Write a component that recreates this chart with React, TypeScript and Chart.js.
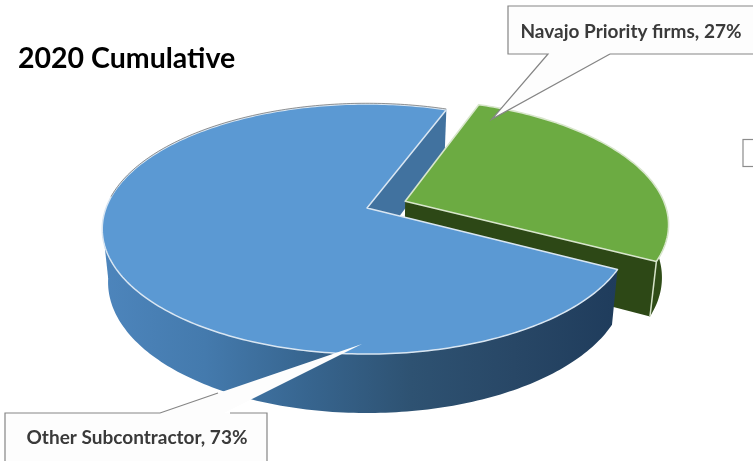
import React, { useEffect, useRef } from "react";
import { Chart, registerables } from "chart.js";

Chart.register(...registerables);

const categories = ["Navajo Priority firms", "Other Subcontractor"];
const shares = [27, 73];
const topColors = ["#6cab42", "#5b99d3"];
const chartTitle = "2020 Cumulative";

// Perspective model of the tilted disc, in canvas pixels.
const CX = 367;
const CY = 208;
const RX = 261;
const RY = 121.5;
const TILT = 0.168;
const EXPLODE = 0.158;
const SHRINK = 0.978;
const DEG = Math.PI / 180;

type Pt = [number, number];

const project = (u: number, v: number): Pt => {
  const w = 1 - TILT * v;
  return [CX + (RX * u) / w, CY + (RY * v) / w];
};

// Same model point on the underside of the disc.
const below = (u: number, v: number): Pt => {
  const [x, y] = project(u, v);
  return [CX + (x - CX) * SHRINK, y + 52 + 7 * v];
};

const pathOf = (ctx: CanvasRenderingContext2D, pts: Pt[]) => {
  ctx.beginPath();
  pts.forEach(([x, y], i) => (i ? ctx.lineTo(x, y) : ctx.moveTo(x, y)));
};

const trace = (ctx: CanvasRenderingContext2D, pts: Pt[]) => {
  pathOf(ctx, pts);
  ctx.closePath();
};

const rim = (a0: number, a1: number, ou: number, ov: number, fn = project): Pt[] => {
  const pts: Pt[] = [];
  const n = Math.max(2, Math.ceil(Math.abs(a1 - a0) / DEG));
  for (let i = 0; i <= n; i++) {
    const a = a0 + ((a1 - a0) * i) / n;
    pts.push(fn(Math.cos(a) + ou, Math.sin(a) + ov));
  }
  return pts;
};

// Band between the top rim and the bottom rim over the given angles.
const wallBand = (a0: number, a1: number, ou: number, ov: number): Pt[] => [
  ...rim(a0, a1, ou, ov),
  ...rim(a0, a1, ou, ov, below).reverse(),
];

// Flat wall running from the hub of a slice out to its rim at angle a.
const radialWall = (a: number, ou: number, ov: number): Pt[] => {
  const u = Math.cos(a) + ou;
  const v = Math.sin(a) + ov;
  return [project(ou, ov), project(u, v), below(u, v), below(ou, ov)];
};

const pie3d = {
  id: "pie3d",
  beforeDatasetsDraw(chart: any) {
    const ctx: CanvasRenderingContext2D = chart.ctx;
    const [green, blue] = chart.getDatasetMeta(0).data;
    const gs = green.startAngle;
    const ge = green.endAngle;
    const bs = blue.startAngle;
    const be = blue.endAngle;
    const mid = (gs + ge) / 2;
    const ou = Math.cos(mid) * EXPLODE;
    const ov = Math.sin(mid) * EXPLODE;

    ctx.save();
    ctx.lineJoin = "round";

    // Inner wall of the large slice, seen through the gap.
    trace(ctx, radialWall(be, 0, 0));
    ctx.fillStyle = "#41729f";
    ctx.fill();

    // Exploded slice: outer wall, cut wall, then its top.
    trace(ctx, wallBand(-12 * DEG, ge, ou, ov));
    ctx.fillStyle = "#2f4c17";
    ctx.fill();
    trace(ctx, radialWall(ge, ou, ov));
    ctx.fillStyle = "#2d4816";
    ctx.fill();

    const corner = Math.cos(ge) + ou;
    const cornerV = Math.sin(ge) + ov;
    ctx.beginPath();
    ctx.moveTo(...project(corner, cornerV));
    ctx.lineTo(...below(corner, cornerV));
    ctx.strokeStyle = "#d5e2c8";
    ctx.lineWidth = 1.5;
    ctx.stroke();

    const greenTop: Pt[] = [project(ou, ov), ...rim(gs, ge, ou, ov)];
    trace(ctx, greenTop);
    ctx.fillStyle = green.options.backgroundColor;
    ctx.fill();
    ctx.strokeStyle = "#d8e6cc";
    ctx.lineWidth = 1.6;
    ctx.stroke();

    // Large slice: curved outer wall with a left-to-right shade, then its top.
    const shade = ctx.createLinearGradient(102, 0, 617, 0);
    shade.addColorStop(0, "#4d85bc");
    shade.addColorStop(0.2, "#447aad");
    shade.addColorStop(0.4, "#37658f");
    shade.addColorStop(0.6, "#2e5272");
    shade.addColorStop(0.8, "#284766");
    shade.addColorStop(1, "#1f3c5c");
    ctx.fillStyle = shade;
    trace(ctx, wallBand(bs, 190 * DEG, 0, 0));
    ctx.fill();
    // Tangent strip that closes the left silhouette between the two rims.
    const side = 172 * DEG;
    const sideU = Math.cos(side);
    const sideV = Math.sin(side);
    trace(ctx, [project(sideU, sideV), below(sideU, sideV), project(0, 0)]);
    ctx.fill();

    const blueTop: Pt[] = [project(0, 0), ...rim(bs, be, 0, 0)];
    trace(ctx, blueTop);
    ctx.fillStyle = blue.options.backgroundColor;
    ctx.fill();
    ctx.strokeStyle = "#d9e6f2";
    ctx.lineWidth = 1.5;
    ctx.stroke();

    // Thin dark line along the far rim.
    pathOf(ctx, rim(185 * DEG, be, 0, -0.008));
    ctx.strokeStyle = "rgba(90,90,90,0.65)";
    ctx.lineWidth = 1;
    ctx.stroke();

    ctx.restore();
    return false; // the slices above replace the flat pie
  },
  afterDraw(chart: any) {
    const ctx: CanvasRenderingContext2D = chart.ctx;
    const values = chart.data.datasets[0].data;
    const labels = chart.data.labels;

    const callouts: { shape: Pt[]; outlines: Pt[][]; x: number; y: number; i: number }[] = [
      {
        i: 0,
        x: 631,
        y: 32,
        shape: [[508, 6], [756, 6], [756, 54], [610, 54], [492, 119], [548, 54], [508, 54]],
        outlines: [[[610, 54], [756, 54], [756, 6], [508, 6], [508, 54], [548, 54], [492, 119], [610, 54]]],
      },
      {
        i: 1,
        x: 137,
        y: 438,
        shape: [[5, 413], [160, 413], [362, 344], [224, 413], [267, 413], [267, 470], [5, 470]],
        outlines: [
          [[218, 393], [160, 413], [5, 413], [5, 470]],
          [[267, 470], [267, 413], [230, 413]],
        ],
      },
    ];

    ctx.save();
    callouts.forEach(({ shape, outlines, x, y, i }) => {
      trace(ctx, shape);
      ctx.fillStyle = "#fdfdfd";
      ctx.fill();
      ctx.strokeStyle = "#858585";
      ctx.lineWidth = 1.2;
      outlines.forEach((line) => {
        pathOf(ctx, line);
        ctx.stroke();
      });
      ctx.fillStyle = "#3a3a3a";
      ctx.font = "bold 19px Lato";
      ctx.textAlign = "center";
      ctx.textBaseline = "middle";
      ctx.fillText(`${labels[i]}, ${values[i]}%`, x, y);
    });

    // Corner of the legend frame at the right edge.
    ctx.strokeStyle = "#8c8c8c";
    ctx.lineWidth = 1.2;
    ctx.strokeRect(743, 139.5, 20, 27);
    ctx.restore();
  },
};

export default function App() {
  const ref = useRef<HTMLCanvasElement>(null);

  useEffect(() => {
    const chart = new Chart(ref.current!, {
      type: "pie",
      data: {
        labels: categories,
        datasets: [{ data: shares, backgroundColor: topColors, borderWidth: 0 }],
      },
      options: {
        animation: false,
        responsive: false,
        rotation: 20.6,
        events: [],
        layout: { padding: { left: 18, top: 42, right: 0, bottom: 0 } },
        plugins: {
          legend: { display: false },
          tooltip: { enabled: false },
          title: {
            display: true,
            text: chartTitle,
            align: "start",
            color: "#000000",
            font: { family: "Lato", size: 28.5, weight: "bold" },
            padding: { top: 0, bottom: 0 },
          },
        },
      },
      plugins: [pie3d],
    } as any);
    return () => chart.destroy();
  }, []);

  return (
    <div style={{ position: "absolute", left: 0, top: 0, width: 753, height: 461, overflow: "hidden" }}>
      <canvas ref={ref} width={753} height={461} style={{ display: "block" }} />
    </div>
  );
}
